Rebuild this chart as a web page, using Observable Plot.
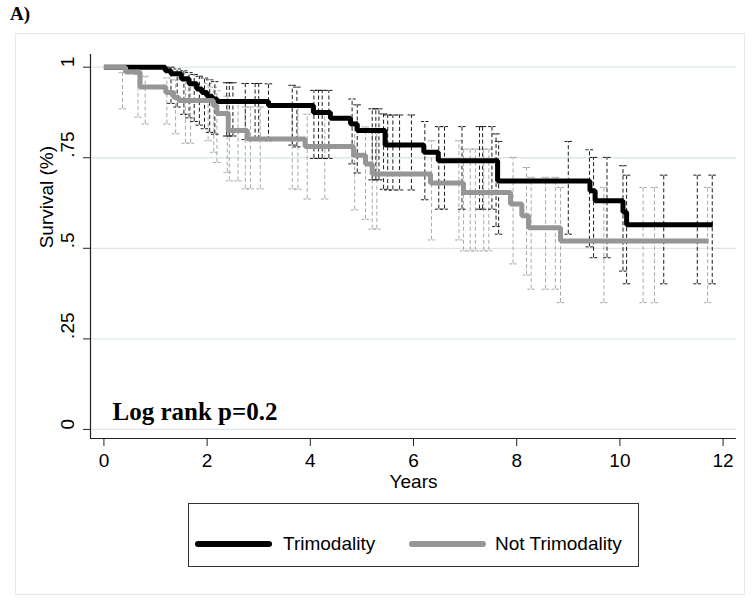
<!DOCTYPE html>
<html><head><meta charset="utf-8">
<script src="https://cdn.jsdelivr.net/npm/d3@7"></script>
<script src="https://cdn.jsdelivr.net/npm/@observablehq/plot@0.6"></script>
<style>
body{margin:0;background:#fff;width:754px;height:603px;position:relative;overflow:hidden;font-family:"Liberation Sans",Arial,sans-serif;}
#frame{position:absolute;left:15px;top:33px;width:730px;height:562px;border:1px solid #e3eaed;box-sizing:border-box;}
#tag{position:absolute;left:10px;top:3px;font:bold 19px "Liberation Serif",serif;color:#000;}
#chart{position:absolute;left:0;top:0;}
#legend{position:absolute;left:188px;top:503px;width:451px;height:64px;border:1px solid #333;box-sizing:border-box;background:#fff;}
.sw{position:absolute;top:37px;height:6px;border-radius:3px;width:77px;}
.lt{position:absolute;top:28px;font-size:19px;line-height:24px;color:#000;white-space:nowrap;}
</style></head>
<body>
<div id="frame"></div>
<div id="tag">A)</div>
<div id="chart"></div>
<div id="legend"></div>
<script>
// Kaplan-Meier step curves (years, survival)
const trimTime = [0, 1.19, 1.3, 1.5, 1.65, 1.8, 1.9, 2.0, 2.1, 2.19, 3.19, 4.06, 4.39, 4.78, 4.91, 5.45, 6.2, 6.48, 7.63, 9.42, 9.52, 10.06, 10.13, 11.8];
const trimSurv = [1, 0.99, 0.982, 0.968, 0.954, 0.94, 0.93, 0.92, 0.912, 0.905, 0.894, 0.875, 0.859, 0.843, 0.825, 0.785, 0.765, 0.742, 0.686, 0.659, 0.631, 0.60, 0.565, 0.565];
const notTime = [0, 0.42, 0.7, 1.2, 1.35, 1.45, 2.12, 2.19, 2.41, 2.78, 3.9, 4.84, 5.07, 5.2, 6.33, 6.97, 7.88, 8.1, 8.23, 8.85, 11.72];
const notSurv = [1, 0.987, 0.945, 0.93, 0.917, 0.908, 0.894, 0.872, 0.825, 0.802, 0.781, 0.757, 0.733, 0.705, 0.68, 0.654, 0.622, 0.59, 0.557, 0.52, 0.52];

// Confidence intervals
const trimCiT = [1.3,1.42,1.55,1.65,1.75,1.85,1.95,2.05,2.15,2.38,2.43,2.5,2.74,2.93,3.0,3.19,3.65,3.74,4.07,4.16,4.23,4.36,4.81,4.91,5.2,5.27,5.33,5.42,5.5,5.6,5.73,5.96,6.22,6.49,6.6,6.94,7.28,7.34,7.52,7.6,7.65,9.0,9.41,9.49,9.75,10.06,10.13,10.85,11.5,11.79];
const trimCiLo = [0.90,0.89,0.87,0.86,0.85,0.84,0.83,0.82,0.815,0.81,0.81,0.81,0.80,0.80,0.80,0.797,0.785,0.78,0.748,0.748,0.748,0.748,0.733,0.708,0.689,0.689,0.689,0.663,0.661,0.661,0.661,0.661,0.634,0.608,0.608,0.608,0.608,0.608,0.608,0.56,0.539,0.539,0.504,0.474,0.474,0.437,0.402,0.402,0.402,0.402];
const trimCiHi = [1.0,0.995,0.99,0.985,0.98,0.975,0.97,0.965,0.96,0.957,0.957,0.957,0.955,0.955,0.955,0.954,0.95,0.945,0.936,0.936,0.936,0.936,0.912,0.896,0.885,0.885,0.885,0.871,0.868,0.868,0.868,0.868,0.85,0.836,0.836,0.836,0.836,0.836,0.836,0.816,0.795,0.795,0.772,0.751,0.751,0.728,0.702,0.702,0.702,0.702];
const notCiT = [0.36,0.66,0.8,1.22,1.39,1.58,1.68,2.02,2.13,2.19,2.39,2.43,2.6,2.74,2.84,3.03,3.65,3.76,3.94,4.28,4.86,5.07,5.2,5.29,6.35,6.88,6.97,7.1,7.2,7.36,7.46,7.93,8.19,8.28,8.56,8.75,8.85,9.69,10.45,10.67,11.7];
const notCiLo = [0.885,0.862,0.843,0.843,0.816,0.79,0.79,0.797,0.765,0.737,0.709,0.686,0.686,0.664,0.664,0.664,0.664,0.663,0.636,0.636,0.606,0.58,0.553,0.553,0.523,0.523,0.493,0.493,0.493,0.493,0.493,0.457,0.426,0.387,0.387,0.387,0.35,0.35,0.35,0.35,0.35];
const notCiHi = [0.985,0.98,0.975,0.97,0.965,0.96,0.96,0.955,0.945,0.935,0.92,0.90,0.90,0.89,0.89,0.89,0.89,0.89,0.87,0.87,0.85,0.835,0.82,0.82,0.797,0.797,0.774,0.774,0.774,0.774,0.774,0.751,0.723,0.696,0.696,0.696,0.668,0.668,0.668,0.668,0.668];

const xTicks = [0, 2, 4, 6, 8, 10, 12];
const yTicks = [0, 0.25, 0.5, 0.75, 1];
const yTickLabels = ["0", ".25", ".5", ".75", "1"];
const seriesNames = ["Trimodality", "Not Trimodality"];
const seriesColors = ["#000000", "#969696"];
const ciColors = ["#1a1a1a", "#a8a8a8"];
const xTitle = "Years", yTitle = "Survival (%)", note = "Log rank p=0.2";

const trim = trimTime.map((t, i) => ({t, s: trimSurv[i]}));
const notT = notTime.map((t, i) => ({t, s: notSurv[i]}));
const trimCi = trimCiT.map((t, i) => ({t, lo: trimCiLo[i], hi: trimCiHi[i]}));
const notCi = notCiT.map((t, i) => ({t, lo: notCiLo[i], hi: notCiHi[i]}));

const X0 = -0.26, X1 = 12.26, Y0 = -0.025, Y1 = 1.035;
const cap = 0.075;
function ciMarks(data, color) {
  const dash = {stroke: color, strokeWidth: 1, strokeDasharray: "4,2.5"};
  return [
    Plot.ruleX(data, {x: "t", y1: "lo", y2: "hi", ...dash}),
    Plot.link(data, {x1: d => d.t - cap, x2: d => d.t + cap, y1: "lo", y2: "lo", stroke: color, strokeWidth: 1, strokeDasharray: "3,1.5"}),
    Plot.link(data, {x1: d => d.t - cap, x2: d => d.t + cap, y1: "hi", y2: "hi", stroke: color, strokeWidth: 1, strokeDasharray: "3,1.5"})
  ];
}

const chart = Plot.plot({
  width: 754, height: 500,
  marginLeft: 90, marginRight: 18, marginTop: 54, marginBottom: 62,
  x: {domain: [X0, X1]},
  y: {domain: [Y0, Y1]},
  style: {fontFamily: "'Liberation Sans', Arial, sans-serif", fontSize: "19px", color: "#000", background: "transparent", overflow: "visible"},
  marks: [
    Plot.gridY(yTicks, {stroke: "#dde7ea", strokeOpacity: 1, strokeWidth: 1.3}),
    ...ciMarks(notCi, ciColors[1]),
    ...ciMarks(trimCi, ciColors[0]),
    Plot.line(trim, {x: "t", y: "s", curve: "step-after", stroke: seriesColors[0], strokeWidth: 5, strokeLinejoin: "miter", strokeLinecap: "butt"}),
    Plot.line(notT, {x: "t", y: "s", curve: "step-after", stroke: seriesColors[1], strokeWidth: 5, strokeLinejoin: "miter", strokeLinecap: "butt"}),
    Plot.ruleX([X0], {stroke: "#222", strokeWidth: 1.2}),
    Plot.ruleY([Y0], {stroke: "#222", strokeWidth: 1.2}),
    Plot.axisX(xTicks, {tickSize: 8, tickPadding: 7, fontSize: 19, label: null, stroke: "#222"}),
    Plot.axisY(yTicks, {tickSize: 7, tickFormat: () => "", label: null, stroke: "#222"}),
    Plot.text(yTicks, {frameAnchor: "left", y: d => d, text: (d, i) => yTickLabels[i], rotate: -90, dx: -23, fontSize: 19}),
    Plot.text([yTitle], {frameAnchor: "left", y: 0.5, rotate: -90, dx: -44, fontSize: 19}),
    Plot.text([xTitle], {frameAnchor: "bottom", x: 6, dy: 49, fontSize: 19}),
    Plot.text([note], {frameAnchor: "bottom-left", textAnchor: "start", dx: 22, dy: -19, fontSize: 25, fontWeight: "bold", fontFamily: "'Liberation Serif', 'Times New Roman', serif"})
  ]
});
document.getElementById("chart").appendChild(chart);

const legend = document.getElementById("legend");
const lx = [[6, 94], [220, 306]];
seriesNames.forEach((name, i) => {
  const sw = document.createElement("div");
  sw.className = "sw"; sw.style.left = lx[i][0] + "px"; sw.style.background = seriesColors[i];
  legend.appendChild(sw);
  const tx = document.createElement("div");
  tx.className = "lt"; tx.style.left = lx[i][1] + "px"; tx.textContent = name;
  legend.appendChild(tx);
});
</script>
</body></html>
